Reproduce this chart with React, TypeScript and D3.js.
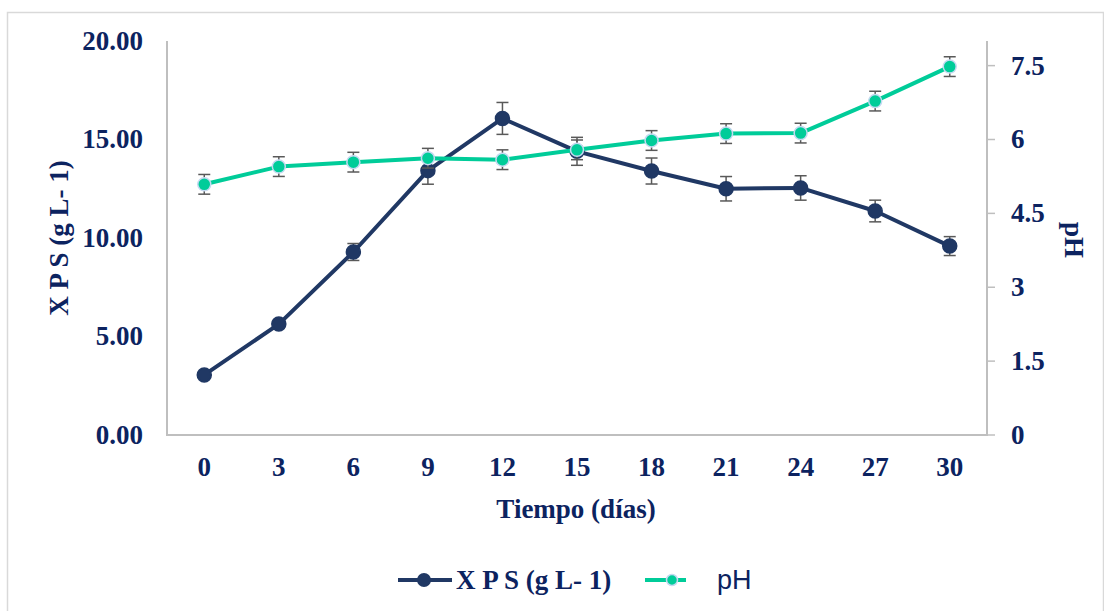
import React, {useEffect, useRef} from 'react';
import * as d3 from 'd3';

// days of sampling
const dias = [0, 3, 6, 9, 12, 15, 18, 21, 24, 27, 30];
// exopolysaccharide production (g L-1) and its std dev
const xps = [3.05, 5.63, 9.29, 13.42, 16.07, 14.4, 13.4, 12.5, 12.54, 11.37, 9.59];
const xpsErr = [0.15, 0.2, 0.43, 0.69, 0.81, 0.71, 0.66, 0.62, 0.62, 0.55, 0.48];
// pH and its std dev
const ph = [5.09, 5.45, 5.54, 5.62, 5.59, 5.79, 5.98, 6.12, 6.13, 6.78, 7.48];
const phErr = [0.2, 0.2, 0.2, 0.2, 0.2, 0.2, 0.2, 0.2, 0.2, 0.2, 0.2];

const leftTicks = [0, 5, 10, 15, 20];
const rightTicks = [0, 1.5, 3, 4.5, 6, 7.5];

const width = 1104;
const height = 611;
const navy = '#203864';
const textNavy = '#0c2360';
const green = '#00CC99';
const axisGray = '#bfbfbf';
const errGray = '#595959';
const serif = '"Liberation Serif", "Times New Roman", serif';
const fs = '27px';

const App = () => {
    const svgRef = useRef(null);

    useEffect(() => {
        const svg = d3.select(svgRef.current);
        svg.selectAll('*').remove();

        const plot = {left: 167, right: 987, top: 41, bottom: 435};

        const x = d3.scalePoint().domain(dias.map(String)).range([plot.left, plot.right]).padding(0.5);
        const yL = d3.scaleLinear().domain([0, 20]).range([plot.bottom, plot.top]);
        const yR = d3.scaleLinear().domain([0, 8]).range([plot.bottom, plot.top]);

        // outer frame
        svg.append('rect')
            .attr('x', 7.5).attr('y', 12.5)
            .attr('width', width - 8).attr('height', height)
            .attr('fill', 'none').attr('stroke', '#d9d9d9').attr('stroke-width', 1.5);

        // axes lines
        const axisG = svg.append('g');
        axisG.append('line')
            .attr('x1', plot.left).attr('x2', plot.left)
            .attr('y1', plot.top).attr('y2', plot.bottom)
            .attr('stroke', axisGray).attr('stroke-width', 2);
        axisG.append('line')
            .attr('x1', plot.right).attr('x2', plot.right)
            .attr('y1', plot.top).attr('y2', plot.bottom)
            .attr('stroke', axisGray).attr('stroke-width', 2);
        axisG.append('line')
            .attr('x1', plot.left - 1).attr('x2', plot.right + 1)
            .attr('y1', plot.bottom).attr('y2', plot.bottom)
            .attr('stroke', axisGray).attr('stroke-width', 2);

        // left tick labels
        svg.append('g').selectAll('text').data(leftTicks).enter().append('text')
            .attr('x', 143).attr('y', (d) => yL(d))
            .attr('dy', '0.33em')
            .attr('text-anchor', 'end')
            .style('font-family', serif).style('font-weight', 'bold').style('font-size', fs)
            .attr('fill', textNavy)
            .text((d) => d.toFixed(2));

        // right ticks + labels
        const rt = svg.append('g');
        rt.selectAll('line').data(rightTicks).enter().append('line')
            .attr('x1', plot.right).attr('x2', plot.right + 8)
            .attr('y1', (d) => yR(d)).attr('y2', (d) => yR(d))
            .attr('stroke', axisGray).attr('stroke-width', 1.5);
        rt.selectAll('text').data(rightTicks).enter().append('text')
            .attr('x', 1011).attr('y', (d) => yR(d))
            .attr('dy', '0.33em')
            .style('font-family', serif).style('font-weight', 'bold').style('font-size', fs)
            .attr('fill', textNavy)
            .text((d) => String(d));

        // x tick labels
        svg.append('g').selectAll('text').data(dias).enter().append('text')
            .attr('x', (d) => x(String(d))).attr('y', 467)
            .attr('dy', '0.33em')
            .attr('text-anchor', 'middle')
            .style('font-family', serif).style('font-weight', 'bold').style('font-size', fs)
            .attr('fill', textNavy)
            .text((d) => String(d));

        // axis titles
        svg.append('text')
            .attr('x', 576).attr('y', 509).attr('dy', '0.33em')
            .attr('text-anchor', 'middle')
            .style('font-family', serif).style('font-weight', 'bold').style('font-size', fs)
            .attr('fill', textNavy)
            .text('Tiempo (días)');
        svg.append('text')
            .attr('transform', 'translate(59,238) rotate(-90)')
            .attr('dy', '0.33em')
            .attr('text-anchor', 'middle')
            .style('font-family', serif).style('font-weight', 'bold').style('font-size', fs)
            .attr('fill', textNavy)
            .text('X P S (g L- 1)');
        svg.append('text')
            .attr('transform', 'translate(1074,240) rotate(90)')
            .attr('dy', '0.33em')
            .attr('text-anchor', 'middle')
            .style('font-family', serif).style('font-weight', 'bold').style('font-size', fs)
            .attr('fill', textNavy)
            .text('pH');

        /** draws one series: line, error bars, markers */
        function drawSeries(values, errs, yScale, color, lw, r, outline) {
            const g = svg.append('g');
            const line = d3.line()
                .x((d, i) => x(String(dias[i])))
                .y((d) => yScale(d));
            g.append('path')
                .datum(values)
                .attr('d', line)
                .attr('fill', 'none')
                .attr('stroke', color)
                .attr('stroke-width', lw)
                .attr('stroke-linejoin', 'round');

            const eb = g.selectAll('.eb').data(values).enter().append('g').classed('eb', true);
            eb.append('line')
                .attr('x1', (d, i) => x(String(dias[i]))).attr('x2', (d, i) => x(String(dias[i])))
                .attr('y1', (d, i) => yScale(d - errs[i])).attr('y2', (d, i) => yScale(d + errs[i]))
                .attr('stroke', errGray).attr('stroke-width', 1.5);
            [-1, 1].forEach((s) => {
                eb.append('line')
                    .attr('x1', (d, i) => x(String(dias[i])) - 6).attr('x2', (d, i) => x(String(dias[i])) + 6)
                    .attr('y1', (d, i) => yScale(d + s * errs[i])).attr('y2', (d, i) => yScale(d + s * errs[i]))
                    .attr('stroke', errGray).attr('stroke-width', 1.5);
            });

            g.selectAll('circle').data(values).enter().append('circle')
                .attr('cx', (d, i) => x(String(dias[i])))
                .attr('cy', (d) => yScale(d))
                .attr('r', r)
                .attr('fill', color)
                .attr('stroke', outline)
                .attr('stroke-width', 1.5);
        }

        drawSeries(xps, xpsErr, yL, navy, 4, 7, navy);
        drawSeries(ph, phErr, yR, green, 4, 6.5, '#c5d9f1');

        // legend
        const lg = svg.append('g');
        lg.append('line').attr('x1', 398).attr('x2', 452).attr('y1', 580).attr('y2', 580)
            .attr('stroke', navy).attr('stroke-width', 4);
        lg.append('circle').attr('cx', 424).attr('cy', 580).attr('r', 7).attr('fill', navy);
        lg.append('text')
            .attr('x', 456).attr('y', 580).attr('dy', '0.33em')
            .style('font-family', serif).style('font-weight', 'bold').style('font-size', fs)
            .attr('fill', textNavy)
            .text('X P S (g L- 1)');
        lg.append('line').attr('x1', 645).attr('x2', 686).attr('y1', 580).attr('y2', 580)
            .attr('stroke', green).attr('stroke-width', 4);
        lg.append('circle').attr('cx', 672).attr('cy', 580).attr('r', 5.5)
            .attr('fill', green).attr('stroke', '#c5d9f1').attr('stroke-width', 1.5);
        lg.append('text')
            .attr('x', 717).attr('y', 580).attr('dy', '0.35em')
            .style('font-family', '"Liberation Sans", Arial, sans-serif').style('font-size', fs)
            .attr('fill', textNavy)
            .text('pH');
    }, []);

    return <svg ref={svgRef} width={width} height={height}
                style={{position: 'absolute', left: 0, top: 0, background: '#fff'}}/>;
};

export default App;
